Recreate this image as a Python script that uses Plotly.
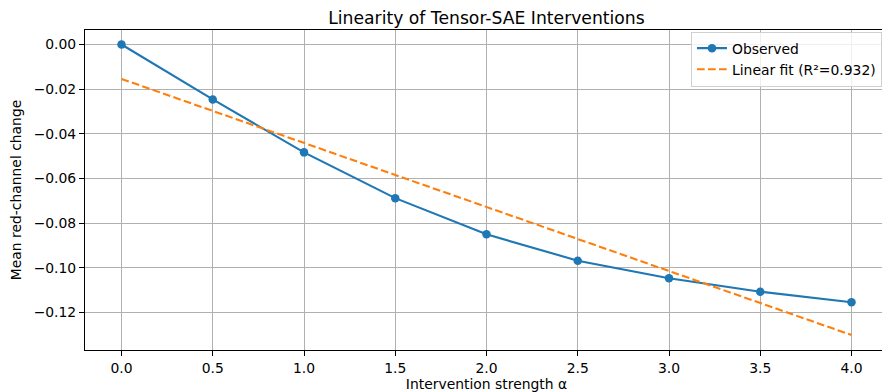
import plotly.graph_objects as go

alpha = [0.0, 0.5, 1.0, 1.5, 2.0, 2.5, 3.0, 3.5, 4.0]
observed = [0.0, -0.0246, -0.0483, -0.0688, -0.0850, -0.0968, -0.1047, -0.1107, -0.1154]
fit_x = [0.0, 4.0]
fit_y = [-0.0154, -0.1301]
x_ticks = [0.0, 0.5, 1.0, 1.5, 2.0, 2.5, 3.0, 3.5, 4.0]
x_tick_labels = ["0.0", "0.5", "1.0", "1.5", "2.0", "2.5", "3.0", "3.5", "4.0"]
y_ticks = [0.0, -0.02, -0.04, -0.06, -0.08, -0.10, -0.12]
y_tick_labels = ["0.00", "\u22120.02", "\u22120.04", "\u22120.06", "\u22120.08", "\u22120.10", "\u22120.12"]

FONT = "DejaVu Sans"
# the page body has an 8px default margin, so the figure is sized/offset to compensate
W, H = 882, 384

fig = go.Figure()
fig.add_trace(go.Scatter(
    x=alpha, y=observed, mode="lines+markers", name="Observed",
    line=dict(color="#1f77b4", width=2.1),
    marker=dict(color="#1f77b4", size=8.5),
))
fig.add_trace(go.Scatter(
    x=fit_x, y=fit_y, mode="lines", name="Linear fit (R\u00b2=0.932)",
    line=dict(color="#ff7f0e", width=2.1, dash="7.7px,3.3px"),
))

axis_common = dict(
    showgrid=True, gridcolor="#b0b0b0", gridwidth=0.8,
    showline=True, linecolor="black", linewidth=1, mirror=True,
    ticks="outside", ticklen=5, tickwidth=1, tickcolor="black",
    zeroline=False, automargin=False,
    tickfont=dict(family=FONT, size=13.9, color="black"),
)

fig.update_layout(
    width=W, height=H,
    margin=dict(l=77, r=2, t=22, b=42, autoexpand=False),
    paper_bgcolor="white", plot_bgcolor="white",
    font=dict(family=FONT, color="black"),
    title=dict(text="Linearity of Tensor-SAE Interventions", x=0.5, xref="paper",
               y=1 - 9.5 / H, yanchor="middle", yref="container",
               font=dict(family=FONT, size=17.2, color="black")),
    xaxis=dict(range=[-0.2, 4.2], tickvals=x_ticks, ticktext=x_tick_labels,
               title=dict(text="Intervention strength \u03b1", standoff=11,
                          font=dict(family=FONT, size=13.9, color="black")),
               **axis_common),
    yaxis=dict(range=[-0.1368, 0.0065], tickvals=y_ticks, ticktext=y_tick_labels,
               title=dict(text="Mean red-channel change", standoff=10,
                          font=dict(family=FONT, size=13.9, color="black")),
               **axis_common),
    legend=dict(x=0.9925, y=0.995, xanchor="right", yanchor="top",
                bgcolor="rgba(255,255,255,0.8)", bordercolor="#d0d0d0", borderwidth=1,
                font=dict(family=FONT, size=13.9, color="black")),
    showlegend=True,
)

fig.write_html("out.html")
